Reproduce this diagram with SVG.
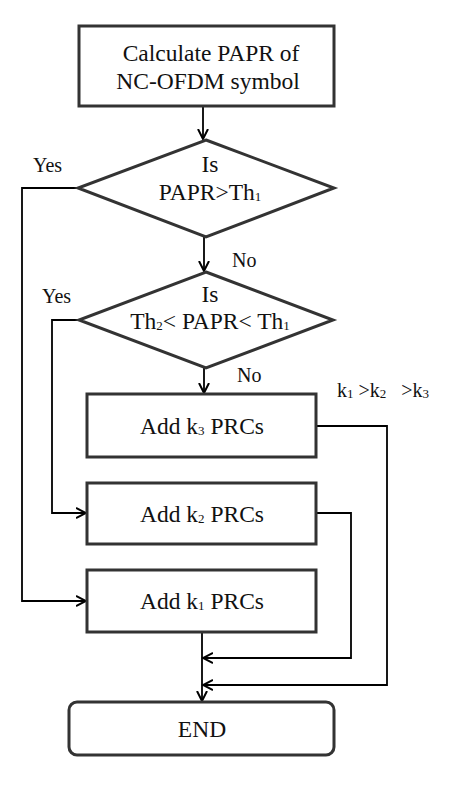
<svg xmlns="http://www.w3.org/2000/svg" width="474" height="790" viewBox="0 0 474 790">
<style>
.n{fill:#fff;stroke:#333;stroke-width:3}
.c{fill:none;stroke:#000;stroke-width:1.8}
.t{font-family:"Liberation Serif","Times New Roman",serif;font-size:23.5px;fill:#111;text-anchor:middle}
.l{font-family:"Liberation Serif","Times New Roman",serif;font-size:20px;fill:#111}
.s{font-size:13px}
</style>
<defs>
<marker id="a" markerUnits="userSpaceOnUse" markerWidth="12" markerHeight="12" refX="10" refY="5" orient="auto" viewBox="0 0 12 10">
<path d="M0,0 L10,5 L0,10" fill="none" stroke="#000" stroke-width="2"/>
</marker>
</defs>
<rect width="474" height="790" fill="#fff"/>
<g id="connectors">
<path class="c" d="M203,106 V139" marker-end="url(#a)"/>
<path class="c" d="M204,237 V271" marker-end="url(#a)"/>
<path class="c" d="M204,368 V393" marker-end="url(#a)"/>
<path class="c" d="M78,188 H22 V601 H86" marker-end="url(#a)"/>
<path class="c" d="M79,320 H52 V513 H86" marker-end="url(#a)"/>
<path class="c" d="M316,426 H387 V685 H203" marker-end="url(#a)"/>
<path class="c" d="M316,513 H351 V658 H203" marker-end="url(#a)"/>
<path class="c" d="M202,632 V701" marker-end="url(#a)"/>
</g>
<g id="calc">
<rect class="n" x="79" y="26" width="255" height="80"/>
<text class="t" x="211" y="61">Calculate PAPR of</text>
<text class="t" x="208" y="89">NC-OFDM symbol</text>
</g>
<g id="dec1">
<polygon class="n" points="206,140 334,188 206,237 78,188"/>
<text class="t" x="210" y="172">Is</text>
<text class="t" x="210" y="200">PAPR&gt;Th<tspan class="s" dy="1">1</tspan></text>
</g>
<g id="dec2">
<polygon class="n" points="206,272 333,320 206,368 79,320"/>
<text class="t" x="210" y="302">Is</text>
<text class="t" x="210" y="329">Th<tspan class="s" dy="1">2</tspan><tspan dy="-1">&lt; PAPR&lt; Th</tspan><tspan class="s" dy="1">1</tspan></text>
</g>
<g id="add3">
<rect class="n" x="87" y="394" width="229" height="63"/>
<text class="t" x="202" y="434">Add k<tspan class="s" dy="1">3</tspan><tspan dy="-1"> PRCs</tspan></text>
</g>
<g id="add2">
<rect class="n" x="87" y="483" width="229" height="61"/>
<text class="t" x="202" y="522">Add k<tspan class="s" dy="1">2</tspan><tspan dy="-1"> PRCs</tspan></text>
</g>
<g id="add1">
<rect class="n" x="87" y="570" width="229" height="62"/>
<text class="t" x="202" y="609">Add k<tspan class="s" dy="1">1</tspan><tspan dy="-1"> PRCs</tspan></text>
</g>
<g id="end">
<rect class="n" x="69" y="702" width="265" height="53" rx="8"/>
<text class="t" x="202" y="737">END</text>
</g>
<g id="labels">
<text class="l" x="33" y="172">Yes</text>
<text class="l" x="42" y="303">Yes</text>
<text class="l" x="232" y="267">No</text>
<text class="l" x="237" y="382">No</text>
<text class="l" x="337" y="397" xml:space="preserve">k<tspan class="s" dy="1">1</tspan><tspan dy="-1"> &gt;k</tspan><tspan class="s" dy="1">2</tspan><tspan dy="-1">   &gt;k</tspan><tspan class="s" dy="1">3</tspan></text>
</g>
</svg>
